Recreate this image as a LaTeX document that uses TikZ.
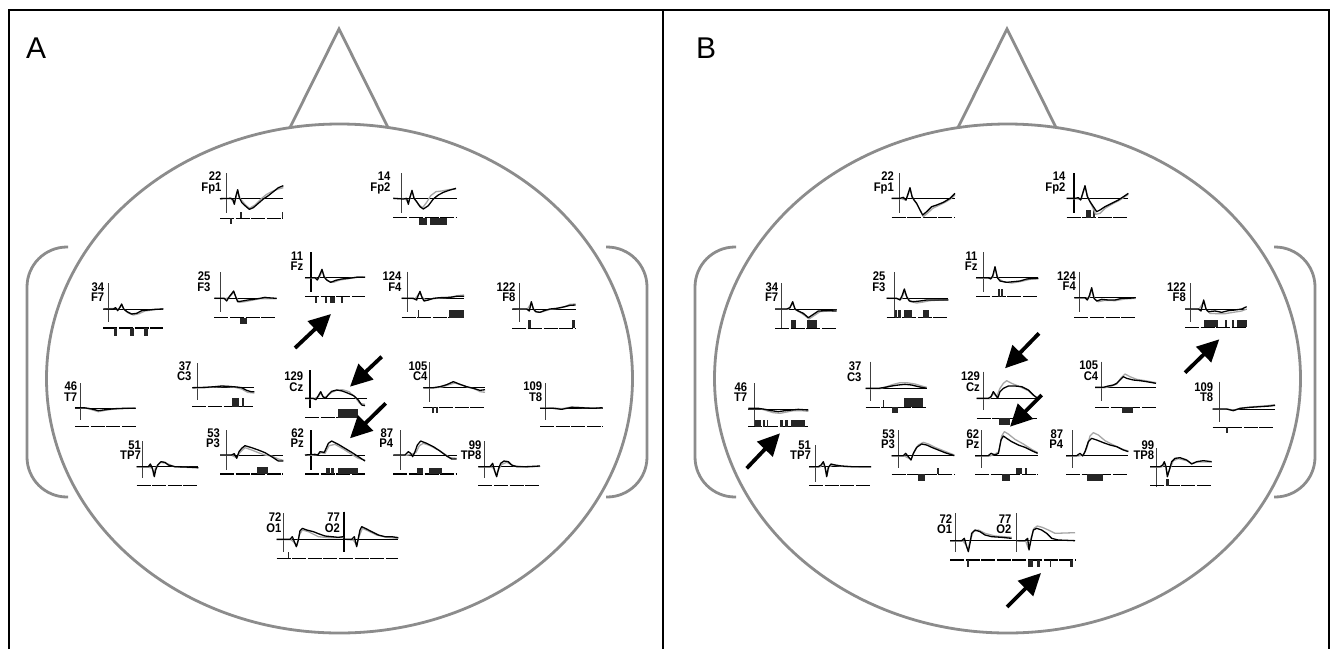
\documentclass[tikz,border=0pt]{standalone}
\usepackage{fontspec}
\setmainfont{Liberation Sans}
\newfontfamily\labfont[FakeStretch=0.9]{Liberation Sans}
\usetikzlibrary{arrows.meta}
\tikzset{
 headln/.style={draw=black!45, line width=2.8pt},
 framel/.style={line width=2pt, black},
 axisln/.style={line width=0.8pt, black!75},
 thickax/.style={line width=1.8pt, black},
 baseln/.style={line width=0.9pt, black},
 stripln/.style={line width=1.1pt, black, dash pattern=on 14pt off 1.6pt},
 blackw/.style={line width=1.3pt, black, line join=round},
 grayw/.style={line width=1.3pt, black!35, line join=round},
 elab/.style={font=\labfont\bfseries\fontsize{12.5}{12.5}\selectfont, anchor=base east, inner sep=0pt},
 panlab/.style={font=\fontsize{30}{30}\selectfont, anchor=base west, inner sep=0pt},
 bigarrow/.style={line width=3.8pt, -{Triangle[length=22pt,width=21pt]}},
 bar/.style={fill=black!85}
}
\newcommand{\erpaxis}[7]{%
  \draw[axisln] (#3,#5) -- (#3,#6);
  \node[elab] (#2num) at (#7,{#4-53}) {#1};
  \node[elab] (#2lab) at (#7,{#4-22}) {#2};
}
\newcommand{\erpplot}[9]{%
  \erpaxis{#1}{#2}{#3}{#4}{#5}{#6}{#9}
  \draw[baseln] (#7,#4) -- (#8,#4);
}
\newcommand{\stripat}[3]{\draw[stripln] (#1,#3) -- (#2,#3);}
\begin{document}
\begin{tikzpicture}[x=1pt,y=-1pt]
\useasboundingbox (0,0) rectangle (1332,649);
\fill[white] (0,0) rectangle (1332,649);
% frame
\draw[framel] (9,649) -- (9,10) -- (1329,10) -- (1329,649);
\draw[framel] (663,10) -- (663,649);
\node[panlab] (labA) at (26,58) {A};
\node[panlab] (labB) at (696,58) {B};
% heads
\foreach \dx in {0,668}{
 \begin{scope}[shift={(\dx,0)}]
  \draw[headln] (339.5,378.5) ellipse [x radius=293pt, y radius=254.5pt];
  \draw[headln, line join=miter] (290,127.5) -- (339,29) -- (388,127.5);
  \draw[headln, rounded corners=40pt] (68,247) -- (27,247) -- (27,497) -- (68,497);
  \draw[headln, rounded corners=40pt] (606,247) -- (647,247) -- (647,497) -- (606,497);
 \end{scope}
}
% ================= PANEL A =================
\begin{scope}[shift={(65,165)}, scale=1/3, name prefix=A-]
 \erpplot{22}{Fp1}{483}{100}{25}{145}{465}{655}{470}
 \stripat{465}{655}{160}
 \fill[bar] (496,160) rectangle (500,178); \fill[bar] (526,140) rectangle (530,160); \fill[bar] (650,140) rectangle (655,160);
 \draw[grayw] plot coordinates {(465,101) (498,100) (508,115) (518,78) (525,100) (540,118) (553,130) (570,120) (590,100) (605,88) (620,80) (640,72) (655,68)};
 \draw[blackw] plot coordinates {(465,101) (498,100) (504,104) (508,118) (513,92) (518,74) (523,98) (530,112) (540,122) (553,133) (565,128) (580,115) (595,102) (610,92) (625,80) (640,68) (655,62)};
 \erpplot{34}{F7}{130}{432}{355}{470}{115}{295}{118}
 \stripat{115}{295}{489}
 \fill[bar] (146,489) rectangle (157,513); \fill[bar] (195,489) rectangle (206,513); \fill[bar] (238,489) rectangle (249,513);
 \draw[grayw] plot coordinates {(115,432) (150,430) (160,433) (170,420) (178,434) (190,444) (205,450) (222,446) (240,438) (270,434) (295,431)};
 \draw[blackw] plot coordinates {(115,432) (145,432) (152,428) (158,437) (164,428) (170,417) (176,432) (186,440) (200,447) (215,445) (230,437) (250,435) (270,433) (295,432)};
 \erpplot{25}{F3}{465}{400}{322}{440}{448}{635}{437}
 \stripat{448}{635}{458}
 \fill[bar] (525,458) rectangle (545,476);
 \draw[grayw] plot coordinates {(448,400) (480,401) (492,398) (506,382) (514,398) (522,412) (540,410) (560,406) (585,401) (635,401)};
 \draw[blackw] plot coordinates {(448,400) (478,400) (485,408) (492,396) (500,386) (506,378) (512,395) (518,410) (532,408) (548,405) (565,403) (585,400) (600,397) (606,398) (635,400)};
 \erpplot{11}{Fz}{737}{338}{262}{380}{720}{900}{715}
 \draw[thickax] (737,262) -- (737,380);
 \stripat{720}{900}{395}
 \fill[bar] (750,395) rectangle (756,413); \fill[bar] (780,395) rectangle (786,413); \fill[bar] (794,395) rectangle (810,413); \fill[bar] (828,395) rectangle (833,413);
 \draw[grayw] plot coordinates {(720,338) (752,339) (760,342) (772,318) (780,338) (790,348) (805,352) (825,345) (850,341) (880,335) (900,336)};
 \draw[blackw] plot coordinates {(720,338) (750,338) (757,345) (764,330) (771,313) (777,335) (785,345) (797,352) (812,346) (830,342) (850,340) (875,337) (900,337)};
\end{scope}
\begin{scope}[shift={(370,165)}, scale=1/3, name prefix=A-]
 \erpplot{14}{Fp2}{93}{100}{25}{145}{70}{260}{62}
 \stripat{70}{260}{158}
 \fill[bar] (148,158) rectangle (170,180); \fill[bar] (180,158) rectangle (232,180);
 \draw[grayw] plot coordinates {(70,100) (105,101) (115,112) (126,80) (134,102) (145,118) (158,128) (170,112) (182,92) (198,80) (215,78) (235,74) (258,72)};
 \draw[blackw] plot coordinates {(70,100) (100,102) (110,100) (115,118) (120,96) (126,76) (132,100) (140,110) (150,125) (160,132) (175,122) (190,102) (205,90) (220,82) (240,75) (258,70)};
 \erpplot{124}{F4}{113}{400}{320}{440}{95}{282}{95}
 \stripat{95}{282}{458}
 \fill[bar] (143,435) rectangle (148,458); \fill[bar] (238,435) rectangle (282,458);
 \draw[grayw] plot coordinates {(95,400) (135,401) (150,384) (158,398) (168,406) (185,402) (210,399) (240,397) (262,392) (282,390)};
 \draw[blackw] plot coordinates {(95,400) (130,400) (140,405) (145,390) (150,379) (155,395) (162,408) (175,405) (190,400) (210,398) (240,397) (260,394) (282,394)};
 \erpplot{122}{F8}{447}{432}{355}{470}{427}{617}{437}
 \stripat{427}{617}{490}
 \fill[bar] (473,465) rectangle (482,490); \fill[bar] (607,465) rectangle (615,490);
 \draw[grayw] plot coordinates {(427,432) (472,433) (484,414) (492,434) (502,442) (518,440) (540,433) (565,430) (585,425) (600,418) (617,417)};
 \draw[blackw] plot coordinates {(427,432) (470,432) (478,438) (484,410) (490,432) (497,440) (510,442) (525,436) (540,432) (560,430) (580,426) (600,421) (617,420)};
\end{scope}
\begin{scope}[shift={(65,355)}, scale=1/3, name prefix=A-]
 \erpplot{46}{T7}{47}{160}{85}{195}{30}{212}{37}
 \stripat{30}{212}{215}
 \draw[grayw] plot coordinates {(30,158) (60,159) (80,164) (100,170) (120,166) (140,163) (170,161) (212,159)};
 \draw[blackw] plot coordinates {(30,158) (55,158) (70,160) (85,163) (100,167) (115,165) (130,163) (150,161) (175,160) (212,160)};
 \erpplot{37}{C3}{398}{98}{25}{135}{382}{568}{380}
 \stripat{382}{568}{155}
 \fill[bar] (500,130) rectangle (522,155); \fill[bar] (530,130) rectangle (538,155);
 \draw[grayw] plot coordinates {(382,99) (420,98) (450,96) (480,94) (510,97) (530,102) (548,112) (568,114)};
 \draw[blackw] plot coordinates {(382,98) (420,97) (450,95) (470,93) (490,94) (515,96) (530,98) (545,106) (558,110) (568,110)};
 \erpplot{129}{Cz}{735}{130}{45}{160}{720}{905}{715}
 \draw[thickax] (735,45) -- (735,160);
 \stripat{720}{880}{188}
 \fill[bar] (820,162) rectangle (880,188);
 \draw[grayw] plot coordinates {(720,131) (748,131) (760,125) (767,114) (776,128) (788,122) (800,112) (815,106) (832,104) (852,110) (870,126) (884,145) (900,148)};
 \draw[blackw] plot coordinates {(720,130) (745,130) (753,134) (760,122) (767,110) (774,125) (782,130) (790,119) (800,109) (815,105) (832,108) (850,115) (866,122) (880,135) (890,150) (900,152)};
 \erpplot{51}{TP7}{232}{335}{258}{370}{215}{400}{228}
 \stripat{215}{400}{392}
 \draw[grayw] plot coordinates {(215,335) (250,336) (262,340) (266,362) (271,340) (285,322) (305,325) (330,336) (400,338)};
 \draw[blackw] plot coordinates {(215,335) (250,335) (256,327) (261,337) (265,350) (268,365) (272,345) (278,330) (288,320) (300,322) (310,330) (330,335) (360,336) (400,338)};
 \erpplot{53}{P3}{483}{300}{225}{345}{465}{655}{465}
 \stripat{465}{655}{357}
 \fill[bar] (575,337) rectangle (610,357);
 \draw[grayw] plot coordinates {(465,301) (500,301) (515,308) (525,292) (540,278) (560,285) (580,293) (600,300) (620,303) (640,312) (655,316)};
 \draw[blackw] plot coordinates {(465,300) (500,300) (508,296) (515,310) (522,290) (530,280) (540,272) (560,278) (580,285) (600,293) (620,305) (640,318) (655,318)};
 \erpplot{62}{Pz}{738}{300}{225}{345}{720}{900}{717}
 \draw[thickax] (738,225) -- (738,345);
 \stripat{720}{900}{357}
 \fill[bar] (783,340) rectangle (795,357); \fill[bar] (797,340) rectangle (808,357); \fill[bar] (820,340) rectangle (880,357);
 \draw[grayw] plot coordinates {(720,301) (755,300) (768,293) (780,295) (792,272) (810,268) (835,282) (860,298) (880,310) (900,315)};
 \draw[blackw] plot coordinates {(720,300) (750,298) (758,300) (765,290) (778,292) (790,265) (800,258) (820,268) (840,280) (860,292) (880,305) (900,318)};
 \erpplot{72}{O1}{655}{553}{475}{590}{635}{1000}{650}
 \erpaxis{77}{O2}{838}{553}{470}{590}{825}
 \draw[thickax] (838,470) -- (838,590);
 \stripat{635}{1000}{610}
 \fill[bar] (668,590) rectangle (672,610);
 \draw[grayw] plot coordinates {(635,554) (678,554) (690,565) (696,572) (703,540) (712,525) (730,530) (760,545) (790,548) (835,548)};
 \draw[blackw] plot coordinates {(635,553) (675,553) (682,545) (688,560) (694,575) (700,555) (705,527) (712,520) (725,525) (745,530) (760,536) (780,543) (800,545) (820,547) (835,545)};
 \draw[grayw] plot coordinates {(845,554) (865,555) (875,570) (882,545) (892,520) (910,528) (935,540) (965,547) (1000,550)};
 \draw[blackw] plot coordinates {(838,553) (860,553) (868,545) (875,575) (880,550) (885,525) (890,515) (905,522) (920,530) (940,540) (960,545) (980,545) (1000,548)};
\end{scope}
\begin{scope}[shift={(380,355)}, scale=1/3, name prefix=A-]
 \erpplot{105}{C4}{148}{98}{22}{140}{130}{315}{143}
 \stripat{130}{315}{157}
 \fill[bar] (155,157) rectangle (162,175); \fill[bar] (168,157) rectangle (175,175);
 \draw[grayw] plot coordinates {(130,99) (160,99) (185,96) (210,88) (225,84) (245,90) (265,97) (285,102) (300,110) (315,112)};
 \draw[blackw] plot coordinates {(130,98) (160,98) (180,95) (200,89) (220,80) (240,88) (260,95) (280,100) (300,106) (315,104)};
 \erpplot{109}{T8}{497}{160}{85}{195}{480}{668}{487}
 \stripat{480}{668}{215}
 \draw[grayw] plot coordinates {(480,160) (525,159) (545,161) (575,156) (610,158) (668,159)};
 \draw[blackw] plot coordinates {(480,160) (520,160) (545,163) (560,160) (575,157) (600,158) (640,160) (668,158)};
 \erpplot{87}{P4}{62}{300}{225}{345}{40}{230}{40}
 \stripat{40}{230}{357}
 \fill[bar] (110,340) rectangle (128,357); \fill[bar] (148,340) rectangle (185,357);
 \draw[grayw] plot coordinates {(40,301) (78,301) (95,298) (108,292) (118,272) (130,265) (150,272) (175,285) (195,298) (210,308) (230,310)};
 \draw[blackw] plot coordinates {(40,300) (75,300) (85,290) (92,295) (98,305) (105,290) (112,270) (122,258) (140,265) (160,275) (180,288) (200,303) (215,312) (230,312)};
 \erpplot{99}{TP8}{313}{335}{258}{370}{295}{480}{305}
 \stripat{295}{480}{392}
 \draw[grayw] plot coordinates {(295,336) (332,336) (342,340) (348,360) (355,345) (365,328) (380,322) (400,332) (440,336) (480,334)};
 \draw[blackw] plot coordinates {(295,335) (330,335) (338,325) (343,345) (350,365) (356,340) (362,325) (372,318) (385,320) (395,330) (410,335) (440,335) (480,333)};
\end{scope}
% ================= PANEL B =================
\begin{scope}[shift={(740,165)}, scale=1/3, name prefix=B-]
 \erpplot{22}{Fp1}{478}{100}{25}{145}{455}{645}{462}
 \stripat{455}{645}{158}
 \draw[grayw] plot coordinates {(455,101) (485,101) (498,106) (510,72) (518,98) (532,120) (545,145) (550,155) (562,145) (578,130) (595,122) (615,112) (632,102) (645,90)};
 \draw[blackw] plot coordinates {(455,100) (480,100) (490,97) (498,105) (503,90) (510,68) (516,95) (522,105) (530,115) (540,135) (548,150) (560,140) (575,125) (590,120) (610,112) (630,100) (645,85)};
 \erpplot{34}{F7}{123}{432}{355}{490}{105}{290}{115}
 \stripat{105}{290}{490}
 \fill[bar] (152,465) rectangle (168,490); \fill[bar] (202,465) rectangle (230,490);
 \draw[grayw] plot coordinates {(105,433) (145,433) (158,415) (166,434) (180,442) (195,452) (207,462) (222,452) (240,440) (265,438) (290,436)};
 \draw[blackw] plot coordinates {(105,432) (140,432) (150,428) (158,410) (165,432) (175,438) (190,445) (205,458) (220,448) (235,438) (260,437) (290,438)};
 \erpplot{25}{F3}{462}{400}{322}{458}{440}{625}{437}
 \stripat{440}{625}{458}
 \fill[bar] (465,435) rectangle (470,458); \fill[bar] (475,435) rectangle (482,458); \fill[bar] (492,435) rectangle (515,458); \fill[bar] (548,435) rectangle (568,458);
 \draw[grayw] plot coordinates {(440,400) (475,401) (485,402) (493,378) (502,398) (512,410) (530,414) (550,411) (570,407) (600,405) (625,404)};
 \draw[blackw] plot coordinates {(440,400) (470,400) (480,405) (487,390) (493,372) (500,395) (508,408) (520,410) (540,408) (560,405) (580,405) (600,405) (625,405)};
 \erpplot{11}{Fz}{730}{338}{262}{380}{708}{895}{713}
 \stripat{708}{895}{395}
 \fill[bar] (773,372) rectangle (780,395); \fill[bar] (783,372) rectangle (790,395);
 \draw[grayw] plot coordinates {(708,339) (748,340) (758,338) (765,310) (774,340) (790,350) (815,354) (840,350) (870,343) (895,342)};
 \draw[blackw] plot coordinates {(708,338) (745,338) (752,342) (758,333) (765,305) (772,338) (780,348) (800,352) (820,350) (840,348) (860,342) (880,340) (895,340)};
\end{scope}
\begin{scope}[shift={(1045,165)}, scale=1/3, name prefix=B-]
 \erpplot{14}{Fp2}{87}{100}{25}{145}{65}{250}{62}
 \draw[thickax] (87,25) -- (87,145);
 \stripat{65}{250}{158}
 \fill[bar] (122,135) rectangle (137,158); \fill[bar] (143,135) rectangle (150,158);
 \draw[grayw] plot coordinates {(65,101) (95,101) (108,104) (120,66) (130,100) (142,125) (152,148) (165,145) (180,130) (200,118) (225,105) (250,88)};
 \draw[blackw] plot coordinates {(65,100) (90,100) (100,98) (107,105) (113,85) (120,62) (127,95) (135,110) (145,125) (155,140) (165,135) (180,125) (200,115) (220,105) (240,92) (250,85)};
 \erpplot{124}{F4}{103}{398}{320}{440}{88}{272}{93}
 \stripat{88}{272}{458}
 \draw[grayw] plot coordinates {(88,399) (122,399) (133,398) (140,372) (148,402) (160,410) (180,406) (210,407) (240,402) (272,400)};
 \draw[blackw] plot coordinates {(88,398) (120,398) (127,405) (133,392) (140,368) (147,400) (155,408) (170,403) (190,405) (210,405) (230,400) (250,400) (272,398)};
 \erpplot{122}{F8}{437}{432}{355}{470}{420}{605}{423}
 \stripat{420}{605}{487}
 \fill[bar] (477,465) rectangle (518,487); \fill[bar] (540,465) rectangle (545,487); \fill[bar] (562,465) rectangle (568,487); \fill[bar] (575,465) rectangle (605,487);
 \draw[grayw] plot coordinates {(420,433) (462,433) (476,410) (485,436) (495,445) (515,446) (540,446) (565,442) (590,438) (605,432)};
 \draw[blackw] plot coordinates {(420,432) (460,432) (468,438) (476,405) (483,432) (490,440) (510,438) (530,442) (550,437) (570,435) (590,432) (605,425)};
\end{scope}
\begin{scope}[shift={(735,330)}, scale=1/3, name prefix=B-]
 \erpplot{46}{T7}{58}{237}{160}{290}{40}{220}{37}
 \stripat{40}{220}{290}
 \fill[bar] (60,270) rectangle (78,290); \fill[bar] (85,270) rectangle (90,290); \fill[bar] (95,270) rectangle (100,290);
 \fill[bar] (135,270) rectangle (145,290); \fill[bar] (150,270) rectangle (160,290); \fill[bar] (168,270) rectangle (210,290);
 \draw[grayw] plot coordinates {(40,236) (75,236) (95,242) (115,248) (135,250) (155,246) (175,242) (200,242) (220,244)};
 \draw[blackw] plot coordinates {(40,235) (70,235) (90,238) (110,242) (130,245) (150,242) (170,240) (190,238) (220,240)};
 \erpplot{37}{C3}{405}{175}{95}{212}{392}{575}{380}
 \stripat{392}{575}{232}
 \fill[bar] (443,210) rectangle (447,232); \fill[bar] (470,232) rectangle (488,250); \fill[bar] (508,205) rectangle (565,232);
 \draw[grayw] plot coordinates {(392,176) (435,176) (455,170) (475,163) (495,158) (515,158) (540,162) (560,168) (575,172)};
 \draw[blackw] plot coordinates {(392,175) (430,175) (450,172) (470,168) (490,165) (510,163) (530,165) (550,170) (575,175)};
 \erpplot{129}{Cz}{745}{205}{125}{240}{725}{908}{735}
 \stripat{725}{905}{265}
 \fill[bar] (793,265) rectangle (825,285);
 \draw[grayw] plot coordinates {(725,206) (765,206) (775,190) (785,200) (795,175) (805,160) (815,152) (830,160) (850,168) (880,182) (900,200) (908,205)};
 \draw[blackw] plot coordinates {(725,205) (760,205) (768,200) (775,185) (782,195) (788,205) (795,185) (805,175) (820,168) (840,168) (860,170) (880,180) (895,195) (908,205)};
 \erpplot{51}{TP7}{240}{410}{345}{455}{222}{408}{228}
 \stripat{222}{408}{467}
 \draw[grayw] plot coordinates {(222,411) (255,411) (265,400) (272,420) (276,436) (282,410) (295,405) (330,410) (408,411)};
 \draw[blackw] plot coordinates {(222,410) (250,410) (258,405) (265,395) (270,410) (275,440) (280,412) (288,402) (300,405) (320,408) (350,410) (408,410)};
 \erpplot{53}{P3}{490}{377}{300}{415}{470}{658}{480}
 \stripat{470}{658}{433}
 \fill[bar] (548,433) rectangle (570,453); \fill[bar] (605,413) rectangle (612,433);
 \draw[grayw] plot coordinates {(470,378) (508,378) (520,384) (528,388) (538,365) (550,345) (565,337) (580,342) (600,352) (625,362) (658,375)};
 \draw[blackw] plot coordinates {(470,377) (505,377) (512,370) (520,380) (528,390) (535,370) (545,352) (560,342) (575,345) (590,352) (610,360) (630,368) (658,377)};
 \erpplot{62}{Pz}{740}{377}{300}{415}{720}{908}{733}
 \stripat{720}{908}{433}
 \fill[bar] (800,433) rectangle (825,453); \fill[bar] (843,413) rectangle (862,433); \fill[bar] (870,413) rectangle (877,433);
 \draw[grayw] plot coordinates {(720,378) (765,378) (780,372) (792,365) (800,318) (808,305) (820,312) (840,328) (865,342) (890,358) (908,368)};
 \draw[blackw] plot coordinates {(720,377) (760,377) (768,370) (780,375) (790,370) (798,330) (805,318) (815,325) (830,335) (850,345) (870,352) (890,362) (908,370)};
 \erpplot{72}{O1}{660}{632}{550}{665}{645}{1020}{652}
 \erpaxis{77}{O2}{845}{632}{550}{665}{830}
 \stripat{645}{1020}{690}
 \fill[bar] (697,690) rectangle (702,710); \fill[bar] (880,690) rectangle (893,710); \fill[bar] (905,690) rectangle (915,710); \fill[bar] (945,690) rectangle (948,710); \fill[bar] (1005,690) rectangle (1015,710);
 \draw[grayw] plot coordinates {(645,633) (684,633) (693,645) (699,660) (706,630) (715,605) (730,600) (750,610) (780,618) (830,622)};
 \draw[blackw] plot coordinates {(645,632) (680,632) (688,625) (695,650) (700,665) (705,640) (710,610) (720,600) (735,605) (750,615) (770,620) (800,622) (830,625)};
 \draw[grayw] plot coordinates {(850,633) (872,633) (880,655) (888,625) (897,595) (907,588) (922,592) (940,600) (960,610) (1020,608)};
 \draw[blackw] plot coordinates {(845,632) (870,632) (878,625) (882,660) (888,630) (895,600) (905,595) (920,600) (935,610) (950,625) (970,630) (1020,632)};
\end{scope}
\begin{scope}[shift={(1050,330)}, scale=1/3, name prefix=B-]
 \erpplot{105}{C4}{153}{172}{95}{212}{135}{318}{145}
 \stripat{135}{318}{232}
 \fill[bar] (215,232) rectangle (248,250);
 \draw[grayw] plot coordinates {(135,173) (165,173) (185,168) (200,162) (212,145) (225,132) (240,140) (260,148) (285,152) (318,158)};
 \draw[blackw] plot coordinates {(135,172) (160,172) (175,168) (190,165) (200,160) (210,150) (220,140) (230,145) (250,150) (270,152) (290,155) (318,160)};
 \erpplot{109}{T8}{508}{237}{155}{275}{488}{675}{490}
 \stripat{488}{675}{292}
 \fill[bar] (528,292) rectangle (533,310);
 \draw[grayw] plot coordinates {(488,238) (535,238) (552,240) (575,234) (610,230) (645,228) (675,224)};
 \draw[blackw] plot coordinates {(488,237) (530,237) (550,242) (570,235) (600,232) (630,230) (660,228) (675,226)};
 \erpplot{87}{P4}{67}{377}{300}{415}{48}{235}{40}
 \stripat{48}{235}{433}
 \fill[bar] (112,433) rectangle (160,453);
 \draw[grayw] plot coordinates {(48,378) (85,378) (100,375) (110,355) (120,318) (130,308) (145,315) (165,332) (190,345) (215,357) (235,363)};
 \draw[blackw] plot coordinates {(48,377) (80,377) (90,370) (98,378) (105,365) (115,335) (125,325) (140,330) (160,338) (180,345) (200,350) (220,360) (235,365)};
 \erpplot{99}{TP8}{320}{410}{355}{470}{300}{485}{313}
 \stripat{300}{485}{467}
 \fill[bar] (348,447) rectangle (357,467);
 \draw[grayw] plot coordinates {(300,411) (335,411) (345,402) (352,435) (360,415) (370,392) (385,386) (410,392) (425,400) (445,396) (485,396)};
 \draw[blackw] plot coordinates {(300,410) (330,410) (338,405) (343,395) (348,410) (352,440) (358,420) (365,395) (375,385) (390,383) (410,390) (425,402) (440,395) (460,392) (485,395)};
\end{scope}
% ================= ARROWS =================
\coordinate (A-fz-t) at (295,348);   \coordinate (A-fz-h) at (331,314);
\coordinate (A-cz-t) at (381.7,356.7); \coordinate (A-cz-h) at (350,386.7);
\coordinate (A-pz-t) at (385.7,403.3); \coordinate (A-pz-h) at (350,438.3);
\coordinate (B-f8-t) at (1185,372.7); \coordinate (B-f8-h) at (1219.3,339.3);
\coordinate (B-t7-t) at (746.7,468.3); \coordinate (B-t7-h) at (780,433.3);
\coordinate (B-cz-t) at (1039,333.3); \coordinate (B-cz-h) at (1005,368.3);
\coordinate (B-pz-t) at (1041.7,395); \coordinate (B-pz-h) at (1010,426.7);
\coordinate (B-o2-t) at (1007,607);   \coordinate (B-o2-h) at (1041,573);
\foreach \a in {A-fz,A-cz,A-pz,B-f8,B-t7,B-cz,B-pz,B-o2}{
  \draw[bigarrow] (\a-t) -- (\a-h);
}
\end{tikzpicture}
\end{document}
